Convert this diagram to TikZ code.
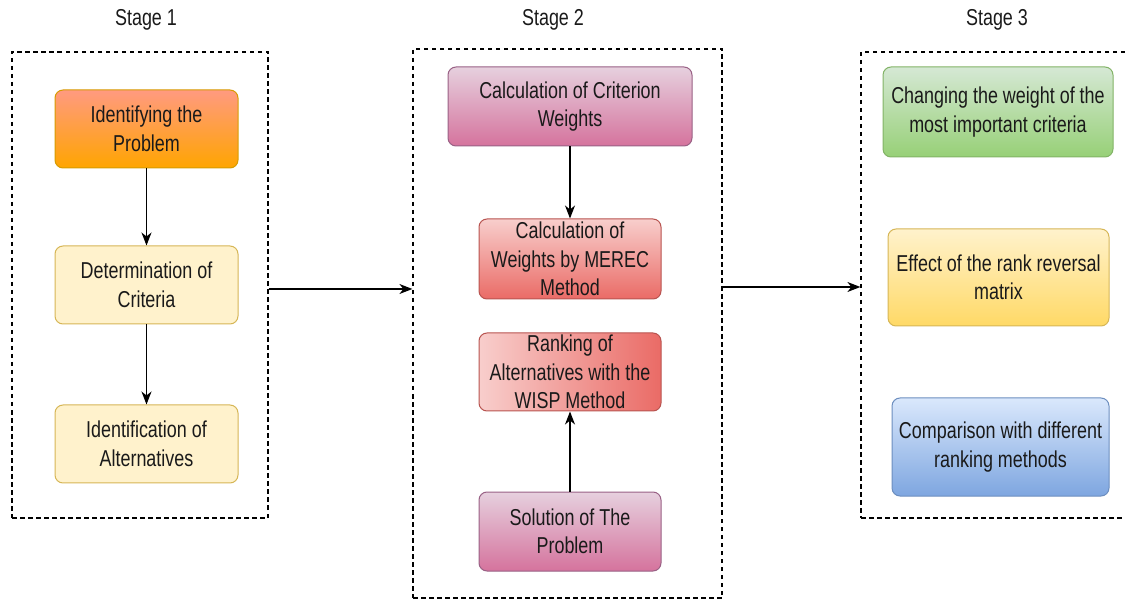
\documentclass[tikz,border=0pt]{standalone}
\usepackage{fontspec}
\setmainfont{Liberation Sans}[FakeStretch=0.78]
\usetikzlibrary{arrows.meta}

\definecolor{txt}{HTML}{1A1A1A}
\definecolor{orgtop}{HTML}{FF9A80}
\definecolor{orgbot}{HTML}{FFA500}
\definecolor{orgline}{HTML}{D79B00}
\definecolor{ylwfill}{HTML}{FFF2CC}
\definecolor{ylwgrad}{HTML}{FFD966}
\definecolor{ylwline}{HTML}{D6B656}
\definecolor{plmtop}{HTML}{E6D0DE}
\definecolor{plmbot}{HTML}{D5739D}
\definecolor{plmline}{HTML}{996185}
\definecolor{redtop}{HTML}{F8CECC}
\definecolor{redbot}{HTML}{EA6B66}
\definecolor{redline}{HTML}{B85450}
\definecolor{grntop}{HTML}{D5E8D4}
\definecolor{grnbot}{HTML}{97D077}
\definecolor{grnline}{HTML}{82B366}
\definecolor{blutop}{HTML}{DAE8FC}
\definecolor{blubot}{HTML}{7EA6E0}
\definecolor{bluline}{HTML}{6C8EBF}

\begin{document}
\begin{tikzpicture}[x=1pt, y=-1pt,
    every node/.style={font=\fontsize{23}{28.5}\selectfont, text=txt, align=center, inner sep=0pt},
    box/.style={rounded corners=8pt, line width=1pt},
    stagebox/.style={draw, dash pattern=on 4.5pt off 3.5pt, line width=1.2pt},
    flow/.style={-{Stealth[length=13pt, width=10pt, inset=4pt]}, line width=1.3pt}]

    \useasboundingbox (0,0) rectangle (1125,601);

    % Stage frames
    \node[stagebox, minimum width=256, minimum height=466] (s1) at (140,285) {};
    \node[stagebox, minimum width=309, minimum height=549] (s2) at (567.5,323.5) {};
    \node[stagebox, minimum width=279, minimum height=466] (s3) at (1000.5,285) {};
    \node (t1) at (146,20) {Stage 1};
    \node (t2) at (553,20) {Stage 2};
    \node (t3) at (997,20) {Stage 3};

    % Stage 1
    \node[box, draw=orgline, top color=orgtop, bottom color=orgbot, minimum width=183, minimum height=78] (prob) at (146.5,129) {Identifying the\\Problem};
    \node[box, draw=ylwline, fill=ylwfill, minimum width=183, minimum height=78] (crit) at (146.5,285) {Determination of\\Criteria};
    \node[box, draw=ylwline, fill=ylwfill, minimum width=183, minimum height=78] (alt) at (146.5,444) {Identification of\\Alternatives};
    \draw[flow] (prob) -- (crit);
    \draw[flow] (crit) -- (alt);

    % Stage 2
    \node[box, draw=plmline, top color=plmtop, bottom color=plmbot, minimum width=244, minimum height=79] (cw) at (570,106.5) {Calculation of Criterion\\Weights};
    \node[box, draw=redline, top color=redtop, bottom color=redbot, minimum width=182, minimum height=80] (merec) at (570,259) {Calculation of\\Weights by MEREC\\Method};
    \node[box, draw=redline, left color=redtop, right color=redbot, minimum width=182, minimum height=78] (rank) at (570,372) {Ranking of\\Alternatives with the\\WISP Method};
    \node[box, draw=plmline, top color=plmtop, bottom color=plmbot, minimum width=182, minimum height=79] (sol) at (570,531.5) {Solution of The\\Problem};
    \draw[flow] (cw) -- (merec);
    \draw[flow] (sol) -- (rank);

    % Stage 3
    \node[box, draw=grnline, top color=grntop, bottom color=grnbot, minimum width=230, minimum height=90] (chg) at (998,112) {Changing the weight of the\\most important criteria};
    \node[box, draw=ylwline, top color=ylwfill, bottom color=ylwgrad, minimum width=221, minimum height=97] (eff) at (998.5,277.5) {Effect of the rank reversal\\matrix};
    \node[box, draw=bluline, top color=blutop, bottom color=blubot, minimum width=217, minimum height=98] (cmp) at (1000.5,447) {Comparison with different\\ranking methods};

    % Between stages
    \draw[flow] ([yshift=-4pt]s1.east) -- ([yshift=-4pt]s1.east -| s2.west);
    \draw[flow] ([yshift=-2pt]s3.west -| s2.east) -- ([yshift=-2pt]s3.west);
\end{tikzpicture}
\end{document}
